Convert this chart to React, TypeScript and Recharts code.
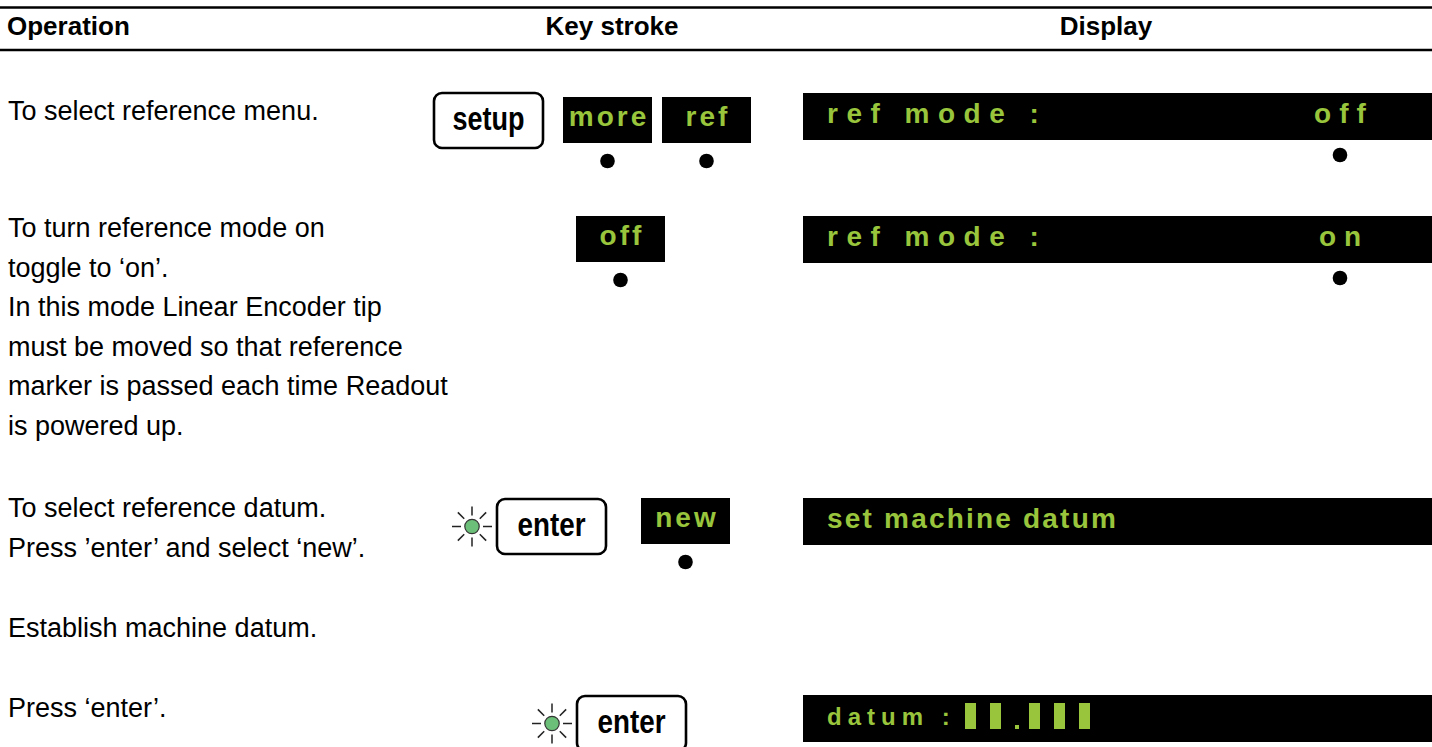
import {
  ScatterChart,
  Scatter,
  XAxis,
  YAxis,
  ReferenceLine,
  ReferenceArea,
  ReferenceDot,
} from 'recharts';

// content of the page
const headers = ['Operation', 'Key stroke', 'Display'];
const operationLines = [
  ['To select reference menu.'],
  [
    'To turn reference mode on',
    'toggle to ‘on’.',
    'In this mode Linear Encoder tip',
    'must be moved so that reference',
    'marker is passed each time Readout',
    'is powered up.',
  ],
  ['To select reference datum.', 'Press ’enter’ and select ‘new’.'],
  ['Establish machine datum.'],
  ['Press ‘enter’.'],
];
const hardKeys = ['setup', '', 'enter', '', 'enter'];
const hardKeyLit = [false, false, true, false, true];
const softKeys = [['more', 'ref'], ['off'], ['new'], [], []];
const displayLabels = ['ref mode :', 'ref mode :', 'set machine datum', '', 'datum :'];
const displayValues = ['off', 'on', '', '', ''];
const displayMarked = [true, true, false, false, false];
const datumMask = ['', '', '', '', '##.###'];

// layout, chart units are page pixels
const W = 1432;
const H = 747;
const TEXT_X = 8;
const LINE_H = 39.6;
const headerX = [7, 612, 1106];
const headerAnchor = ['start', 'middle', 'middle'];
const HEADER_Y = 35;
const rowTextY = [120, 237, 517, 637, 717];
const hardKeyX = [434, 0, 497, 0, 577];
const hardKeyY = [93, 0, 499, 0, 696];
const HARD_W = 109;
const HARD_H = 55;
const softKeyX = [[563, 662], [576], [641], [], []];
const softKeyY = [97, 216, 498, 0, 0];
const SOFT_W = 89;
const SOFT_H = 46;
const displayY = [93, 216, 498, 0, 695];
const DISP_X = 803;
const DISP_H = 47;
const VALUE_X = 1340;
const GREEN = '#98c53c';
const FONT = '"Liberation Sans", Arial, Helvetica, sans-serif';

const opPoints = operationLines.flatMap((lines, r) =>
  lines.map((t, i) => ({ x: TEXT_X, y: rowTextY[r] + i * LINE_H, text: t }))
);
const headerPoints = headers.map((h, i) => ({ x: headerX[i], y: HEADER_Y, text: h, anchor: headerAnchor[i] }));

const hardKeyShape = (label: string) => (p: any) => {
  const tl = label === 'setup' ? 72 : 68;
  return (
    <g>
      <rect x={p.x} y={p.y} width={p.width} height={p.height} rx={8} ry={8} fill="#fff" stroke="#000" strokeWidth={2.6} />
      <text
        x={p.x + p.width / 2 - tl / 2}
        y={p.y + 37}
        fontFamily={FONT}
        fontWeight="bold"
        fontSize={33}
        fill="#000"
        textLength={tl}
        lengthAdjust="spacingAndGlyphs"
      >
        {label}
      </text>
    </g>
  );
};

const softKeyShape = (label: string) => (p: any) => (
  <g>
    <rect x={p.x} y={p.y} width={p.width} height={p.height} fill="#000" />
    <text
      x={p.x + p.width / 2 + 1.5}
      y={p.y + p.height / 2 + 6}
      textAnchor="middle"
      fontFamily={FONT}
      fontWeight="bold"
      fontSize={28}
      fill={GREEN}
      style={{ letterSpacing: '3px' }}
    >
      {label}
    </text>
  </g>
);

const displayShape = (r: number) => (p: any) => {
  const label = displayLabels[r];
  const value = displayValues[r];
  const mask = datumMask[r];
  const wide = label.startsWith('ref');
  const cells: any[] = [];
  let cx = 965;
  for (let i = 0; i < mask.length; i++) {
    if (mask[i] === '#') {
      cells.push(<rect key={i} x={cx} y={p.y + 8} width={11} height={26} fill={GREEN} />);
      cx += 25;
    } else {
      cells.push(<rect key={i} x={cx} y={p.y + 30} width={4} height={4} fill={GREEN} />);
      cx += 14;
    }
  }
  return (
    <g>
      <rect x={p.x} y={p.y} width={p.width} height={p.height} fill="#000" />
      {mask ? (
        <text
          x={DISP_X + 24}
          y={p.y + 30}
          fontFamily={FONT}
          fontWeight="bold"
          fontSize={24}
          fill={GREEN}
          style={{ letterSpacing: '6px' }}
        >
          {label}
        </text>
      ) : (
        <text
          x={DISP_X + 24}
          y={p.y + p.height / 2 + 6}
          fontFamily={FONT}
          fontWeight="bold"
          fontSize={28}
          fill={GREEN}
          style={{ letterSpacing: wide ? '8.5px' : '2.2px' }}
        >
          {label}
        </text>
      )}
      {value ? (
        <text
          x={VALUE_X + 4}
          y={p.y + p.height / 2 + 6}
          textAnchor="middle"
          fontFamily={FONT}
          fontWeight="bold"
          fontSize={28}
          fill={GREEN}
          style={{ letterSpacing: '8px' }}
        >
          {value}
        </text>
      ) : null}
      {cells}
    </g>
  );
};

const sunShape = (p: any) => {
  const rays = [0, 45, 90, 135, 180, 225, 270, 315];
  return (
    <g>
      {rays.map((a) => {
        const t = (a * Math.PI) / 180;
        return (
          <line
            key={a}
            x1={p.cx + Math.cos(t) * 11}
            y1={p.cy + Math.sin(t) * 11}
            x2={p.cx + Math.cos(t) * 20}
            y2={p.cy + Math.sin(t) * 20}
            stroke="#222"
            strokeWidth={1.5}
          />
        );
      })}
      <circle cx={p.cx} cy={p.cy} r={7.2} fill="#6cbf78" stroke="#333" strokeWidth={1.2} />
    </g>
  );
};

const textShape = (size: number, weight: string) => (p: any) => (
  <text
    x={p.cx}
    y={p.cy}
    textAnchor={p.payload.anchor || 'start'}
    fontFamily={FONT}
    fontWeight={weight}
    fontSize={size}
    fill="#000"
  >
    {p.payload.text}
  </text>
);

export default function App() {
  return (
    <div style={{ position: 'absolute', left: 0, top: 0, width: W, height: H, background: '#fff' }}>
      <ScatterChart width={W} height={H} margin={{ top: 0, right: 0, bottom: 0, left: 0 }}>
        <XAxis type="number" dataKey="x" domain={[0, W]} allowDataOverflow hide />
        <YAxis type="number" dataKey="y" domain={[0, H]} allowDataOverflow reversed hide />

        <ReferenceLine y={7.5} stroke="#000" strokeWidth={2.6} ifOverflow="visible" />
        <ReferenceLine y={50} stroke="#000" strokeWidth={2.6} ifOverflow="visible" />

        {displayLabels.map((label, r) =>
          label ? (
            <ReferenceArea
              key={'d' + r}
              x1={DISP_X}
              x2={W}
              y1={displayY[r]}
              y2={displayY[r] + DISP_H}
              ifOverflow="visible"
              shape={displayShape(r)}
            />
          ) : null
        )}

        {softKeys.flatMap((keys, r) =>
          keys.map((k, i) => (
            <ReferenceArea
              key={'s' + r + i}
              x1={softKeyX[r][i]}
              x2={softKeyX[r][i] + SOFT_W}
              y1={softKeyY[r]}
              y2={softKeyY[r] + SOFT_H}
              ifOverflow="visible"
              shape={softKeyShape(k)}
            />
          ))
        )}

        {hardKeys.map((k, r) =>
          k ? (
            <ReferenceArea
              key={'h' + r}
              x1={hardKeyX[r]}
              x2={hardKeyX[r] + HARD_W}
              y1={hardKeyY[r]}
              y2={hardKeyY[r] + HARD_H}
              ifOverflow="visible"
              shape={hardKeyShape(k)}
            />
          ) : null
        )}

        {hardKeyLit.map((lit, r) =>
          lit ? (
            <ReferenceDot
              key={'l' + r}
              x={hardKeyX[r] - 25}
              y={hardKeyY[r] + HARD_H / 2}
              r={7}
              ifOverflow="visible"
              shape={sunShape}
            />
          ) : null
        )}

        {softKeys.flatMap((keys, r) =>
          keys.map((k, i) => (
            <ReferenceDot
              key={'sd' + r + i}
              x={softKeyX[r][i] + SOFT_W / 2}
              y={softKeyY[r] + SOFT_H + 18}
              r={7.3}
              fill="#000"
              stroke="none"
              ifOverflow="visible"
            />
          ))
        )}

        {displayMarked.map((m, r) =>
          m ? (
            <ReferenceDot
              key={'dd' + r}
              x={VALUE_X}
              y={displayY[r] + DISP_H + 15}
              r={7.3}
              fill="#000"
              stroke="none"
              ifOverflow="visible"
            />
          ) : null
        )}

        <Scatter data={headerPoints} isAnimationActive={false} shape={textShape(26, 'bold')} />
        <Scatter data={opPoints} isAnimationActive={false} shape={textShape(27, 'normal')} />
      </ScatterChart>
    </div>
  );
}
